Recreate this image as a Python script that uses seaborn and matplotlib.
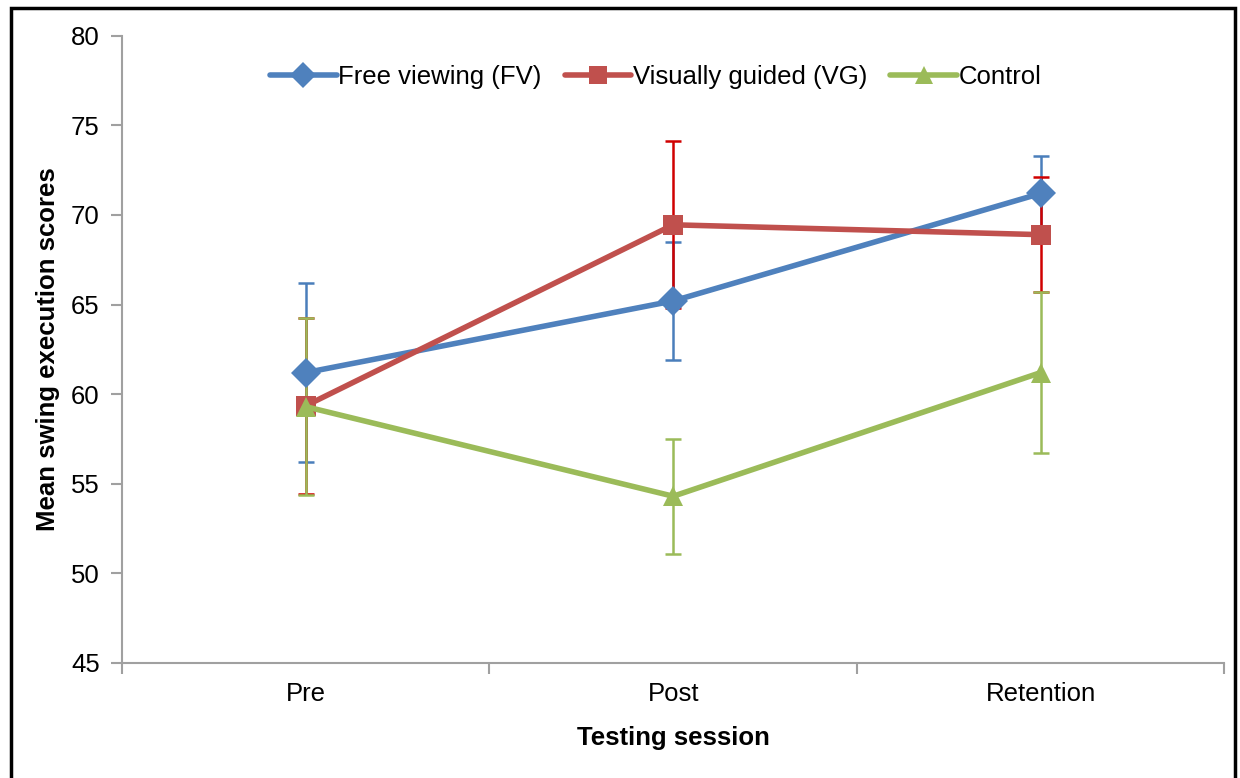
import numpy as np
import pandas as pd
import seaborn as sns
import matplotlib.pyplot as plt
from matplotlib.patches import Rectangle

sessions = ['Pre', 'Post', 'Retention']
groups = ['Free viewing (FV)', 'Visually guided (VG)', 'Control']

fv_mean = [61.2, 65.2, 71.2]
fv_err = [5.0, 3.3, 2.1]
vg_mean = [59.35, 69.45, 68.9]
vg_err = [4.9, 4.65, 3.2]
ctl_mean = [59.3, 54.3, 61.2]
ctl_err = [4.95, 3.2, 4.5]

line_colors = ['#4F81BD', '#C0504D', '#9BBB59']
err_colors = ['#4A7EBB', '#D00000', '#9BBB59']
markers = ['D', 's', '^']

sns.set_style('white')
plt.rcParams['font.family'] = ['Liberation Sans', 'DejaVu Sans']
plt.rcParams['text.color'] = 'black'
plt.rcParams['axes.labelcolor'] = 'black'
plt.rcParams['xtick.color'] = 'black'
plt.rcParams['ytick.color'] = 'black'

df = pd.DataFrame({
    'x': list(range(3)) * 3,
    'score': fv_mean + vg_mean + ctl_mean,
    'group': np.repeat(groups, 3),
})

fig = plt.figure(figsize=(12.4, 7.78), dpi=100)
ax = fig.add_axes([0.0984, 0.148, 0.889, 0.806])

# error bars first, green on top
for means, errs, c, z in zip([fv_mean, vg_mean, ctl_mean], [fv_err, vg_err, ctl_err],
                             err_colors, [2, 3, 4]):
    ax.errorbar(range(3), means, yerr=errs, fmt='none', ecolor=c, elinewidth=1.8,
                capsize=6, capthick=1.8, zorder=z)

sns.lineplot(data=df, x='x', y='score', hue='group', style='group',
             hue_order=groups, style_order=groups,
             palette=line_colors, markers=markers, dashes=False,
             linewidth=4, markersize=15, markeredgewidth=0, ax=ax, zorder=5)

fs = 18.5
ax.set_xlim(-0.5, 2.5)
ax.set_ylim(45, 80)
ax.set_yticks(range(45, 81, 5))
ax.set_xticks([0, 1, 2])
ax.set_xticklabels(sessions)
ax.set_xticks([-0.5, 0.5, 1.5, 2.5], minor=True)
ax.tick_params(axis='x', which='major', length=0, pad=14, labelsize=fs)
ax.tick_params(axis='x', which='minor', bottom=True, length=8, width=1.5,
               color='#A0A0A0', direction='out')
ax.tick_params(axis='y', length=8, width=1.5, color='#A0A0A0', direction='out',
               left=True, labelsize=fs, pad=8)

for s in ['top', 'right']:
    ax.spines[s].set_visible(False)
for s in ['left', 'bottom']:
    ax.spines[s].set_color('#A0A0A0')
    ax.spines[s].set_linewidth(1.5)

ax.set_xlabel('Testing session', fontsize=fs, fontweight='bold', labelpad=14)
ax.set_ylabel('Mean swing execution scores', fontsize=fs, fontweight='bold', labelpad=8)

leg = ax.legend(loc='upper center', bbox_to_anchor=(0.484, 0.99), ncol=3, frameon=False,
                fontsize=fs, handlelength=2.6, handletextpad=0.05, columnspacing=0.9,
                markerscale=0.85)

fig.patches.append(Rectangle((11 / 1240, -0.05), 1224 / 1240, 1.05 - 8 / 778,
                             transform=fig.transFigure, fill=False,
                             edgecolor='black', linewidth=2.5, zorder=10))

fig.savefig('out.png', dpi=100)
